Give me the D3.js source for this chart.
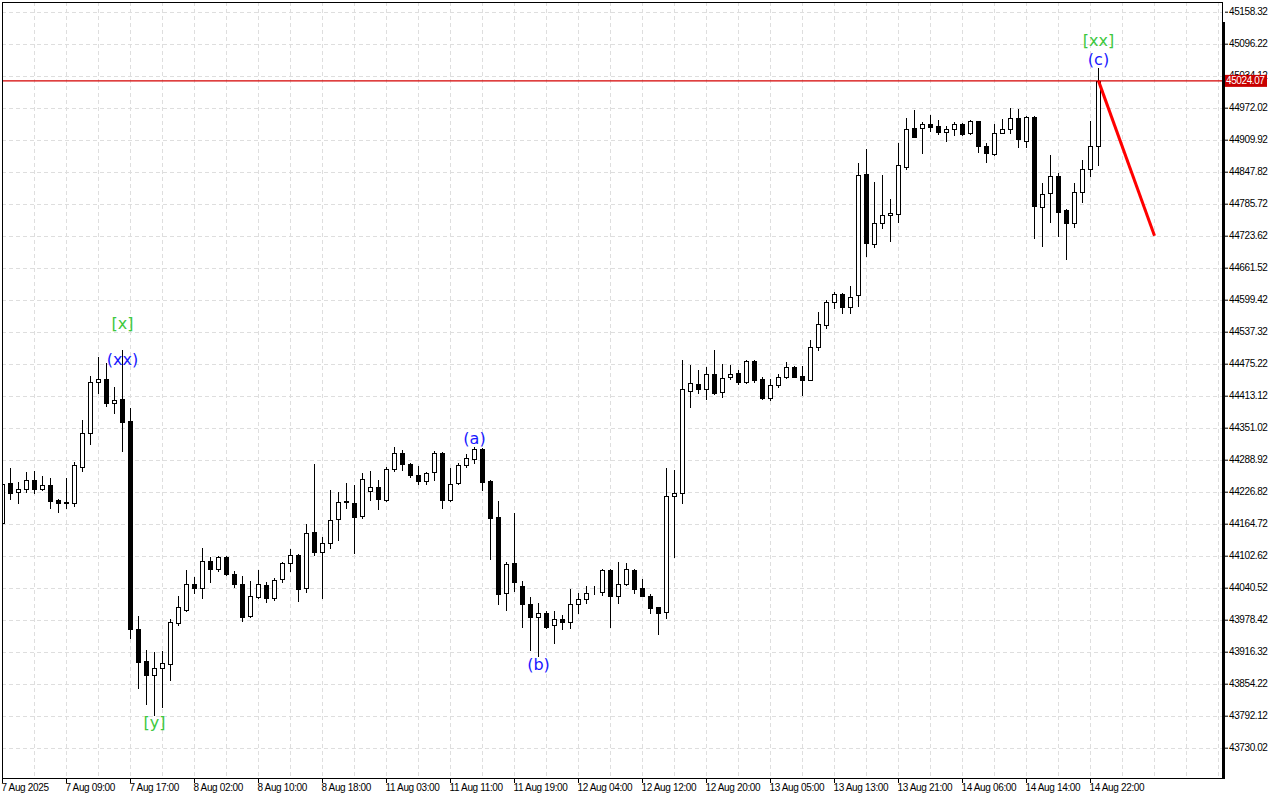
<!DOCTYPE html>
<html><head><meta charset="utf-8">
<script src="https://cdn.jsdelivr.net/npm/d3@7"></script>
<style>body{margin:0;background:#fff}svg{display:block}</style>
</head><body><svg id="c" width="1280" height="800"></svg>
<script>
// ---- data (hourly candles, bar index 0..137) ----
const opens = [44166,44244,44226,44232,44250,44232,44240,44211,44205,44205,44275,44341,44440,44446,44399,44407,44364,43960,43898,43871,
43885,43892,43972,43997,44048,44040,44092,44077,44100,44067,44048,43986,44022,44046,44021,44057,44088,44104,44040,44149,
44110,44127,44174,44207,44205,44180,44228,44236,44211,44271,44302,44281,44259,44248,44265,44302,44211,44244,44279,44290,
44310,44248,44178,44030,44088,44044,44009,43984,43991,43968,43980,43974,44009,44019,44034,44032,44075,44024,44048,44075,
44040,44024,44003,43993,44219,44224,44422,44436,44426,44455,44420,44449,44457,44440,44480,44446,44409,44434,44449,44469,
44451,44444,44508,44550,44595,44611,44585,44609,44843,44708,44748,44764,44766,44857,44933,44933,44940,44936,44925,44931,
44940,44923,44946,44898,44882,44923,44931,44952,44907,44954,44779,44806,44840,44774,44748,44808,44853,44898];
const highs = [44246,44273,44246,44265,44267,44257,44253,44213,44253,44284,44366,44451,44488,44477,44430,44502,44389,43986,43920,43916,
43918,43980,44024,44075,44061,44118,44100,44102,44102,44073,44063,44054,44075,44052,44059,44090,44116,44105,44164,44281,
44139,44230,44226,44244,44240,44263,44267,44250,44275,44314,44308,44282,44277,44265,44306,44303,44273,44283,44300,44314,
44311,44249,44209,44090,44186,44054,44022,44011,43995,43995,43988,44038,44030,44044,44044,44076,44076,44090,44088,44076,
44057,44028,44004,44273,44269,44482,44473,44463,44469,44502,44475,44473,44463,44482,44482,44449,44446,44455,44479,44471,
44471,44521,44576,44599,44614,44612,44626,44865,44892,44828,44841,44795,44904,44952,44968,44944,44958,44948,44937,44944,
44942,44948,44947,44904,44940,44950,44971,44970,44955,44955,44826,44880,44845,44775,44826,44871,44946,45049];
const lows = [44164,44213,44205,44226,44224,44230,44195,44187,44195,44199,44267,44319,44418,44393,44380,44306,43943,43846,43815,43794,
43809,43861,43968,43995,44030,44021,44052,44073,44065,44042,43976,43984,44021,44013,44017,44052,44073,44015,44032,44104,
44021,44118,44133,44195,44108,44176,44211,44193,44209,44267,44269,44255,44242,44242,44250,44195,44209,44242,44275,44283,
44230,44096,44009,43997,44034,43964,43920,43908,43962,43933,43960,43962,43991,44011,44028,44026,43964,44011,44046,44030,
44024,43991,43951,43982,44100,44205,44391,44418,44407,44417,44411,44446,44436,44438,44440,44407,44405,44430,44447,44449,
44415,44443,44502,44545,44583,44574,44574,44587,44684,44702,44739,44713,44750,44853,44915,44884,44927,44921,44907,44919,
44919,44921,44886,44867,44881,44922,44922,44896,44896,44719,44704,44750,44723,44678,44740,44789,44839,44861];
const closes = [44242,44224,44232,44250,44232,44240,44209,44205,44206,44279,44341,44440,44446,44399,44405,44362,43960,43896,43871,43885,
43894,43974,44003,44048,44040,44092,44077,44100,44067,44048,43984,44024,44048,44021,44055,44088,44104,44038,44147,44110,
44127,44172,44207,44209,44178,44251,44236,44213,44271,44302,44281,44259,44248,44263,44302,44211,44242,44279,44292,44310,
44246,44176,44028,44087,44052,44009,43984,43991,43964,43980,43974,44009,44019,44030,44035,44075,44024,44048,44077,44038,
44024,44001,43991,44219,44224,44426,44438,44426,44455,44418,44447,44455,44440,44480,44444,44409,44434,44449,44469,44449,
44444,44508,44552,44595,44611,44585,44605,44841,44709,44748,44764,44768,44861,44931,44915,44940,44935,44925,44931,44940,
44921,44946,44898,44884,44923,44931,44952,44911,44954,44781,44805,44840,44770,44748,44808,44853,44898,45024.07];

const xLabels = ["7 Aug 2025","7 Aug 09:00","7 Aug 17:00","8 Aug 02:00","8 Aug 10:00","8 Aug 18:00","11 Aug 03:00","11 Aug 11:00","11 Aug 19:00",
"12 Aug 04:00","12 Aug 12:00","12 Aug 20:00","13 Aug 05:00","13 Aug 13:00","13 Aug 21:00","14 Aug 06:00","14 Aug 14:00","14 Aug 22:00"];
const xLabelBars = [0,8,16,24,32,40,48,56,64,72,80,88,96,104,112,120,128,136];
const yTicks = [45158.32,45096.22,45034.12,44972.02,44909.92,44847.82,44785.72,44723.62,44661.52,44599.42,44537.32,44475.22,
44413.12,44351.02,44288.92,44226.82,44164.72,44102.62,44040.52,43978.42,43916.32,43854.22,43792.12,43730.02];
const currentPrice = 45024.07;

const waveTexts  = ["[x]","(xx)","[y]","(a)","(b)","[xx]","(c)"];
const waveBars   = [15,15,19,59,67,137,137];
const wavePrices = [44554,44484,43778,44331,43892,45103,45066];
const waveDegree = ["major","minor","major","minor","minor","major","minor"];

const projBars = [137,144];
const projPrices = [45024.07,44723.62];

// ---- drawing ----
const L=2, R=1222, T=2, B=778;
const svg = d3.select("#c");
svg.append("rect").attr("width",1280).attr("height",800).attr("fill","#fff");
const x = d3.scaleLinear().domain([0,152]).range([2,1218]);
const y = d3.scaleLinear().domain([43671.2,45177.15]).range([B,T]);
const FONT = "'Liberation Sans', Arial, sans-serif";

// grid
const grid = svg.append("g").attr("stroke","#dedede").attr("stroke-dasharray","4,3").attr("shape-rendering","crispEdges");
grid.selectAll("line.h").data(yTicks).join("line").attr("class","h")
  .attr("x1",L).attr("x2",R).attr("y1",d=>Math.round(y(d))+0.5).attr("y2",d=>Math.round(y(d))+0.5);
grid.selectAll("line.v").data(d3.range(4,153,4)).join("line").attr("class","v")
  .attr("x1",d=>x(d)+0.5).attr("x2",d=>x(d)+0.5).attr("y1",T).attr("y2",B);

// candles
svg.append("clipPath").attr("id","pc").append("rect").attr("x",L+0.5).attr("y",T).attr("width",R-L).attr("height",B-T);
const cg = svg.append("g").attr("clip-path","url(#pc)").attr("shape-rendering","crispEdges");
const idx = d3.range(opens.length);
cg.selectAll("line.w").data(idx).join("line").attr("class","w")
  .attr("x1",i=>x(i)+0.5).attr("x2",i=>x(i)+0.5)
  .attr("y1",i=>Math.round(y(highs[i]))).attr("y2",i=>Math.round(y(lows[i]))+1)
  .attr("stroke","#000").attr("stroke-width",1);
idx.forEach(i=>{
  const yo=Math.round(y(opens[i])), yc=Math.round(y(closes[i]));
  const cx=x(i);
  if (closes[i] >= opens[i]) {
    cg.append("rect").attr("x",cx-1.5).attr("y",yc+0.5).attr("width",4).attr("height",Math.max(0,yo-yc))
      .attr("fill","#fff").attr("stroke","#000").attr("stroke-width",1);
  } else {
    cg.append("rect").attr("x",cx-2).attr("y",yo).attr("width",5).attr("height",Math.max(1,yc-yo+1)).attr("fill","#000");
  }
});

// current price line
svg.append("line").attr("x1",L).attr("x2",R).attr("y1",y(currentPrice)).attr("y2",y(currentPrice))
  .attr("stroke","#d40000").attr("stroke-width",1.2);

// projection line
svg.append("path").datum(projBars.map((b,k)=>[b,projPrices[k]]))
  .attr("d",d3.line().x(d=>x(d[0])+0.5).y(d=>y(d[1])))
  .attr("stroke","#ff0000").attr("stroke-width",3).attr("fill","none");

// wave labels
svg.append("g").selectAll("text").data(d3.range(waveTexts.length)).join("text")
  .attr("x",k=>x(waveBars[k])+0.5).attr("y",k=>y(wavePrices[k]))
  .attr("text-anchor","middle").attr("dominant-baseline","central")
  .attr("font-family","'DejaVu Sans', sans-serif").attr("font-size",16)
  .attr("fill",k=>waveDegree[k]==="major"?"#3ec83e":"#1818ff")
  .text(k=>waveTexts[k]);

// frame
const fr = svg.append("g").attr("stroke","#000").attr("shape-rendering","crispEdges");
fr.append("line").attr("x1",L+0.5).attr("x2",L+0.5).attr("y1",T).attr("y2",B+1);
fr.append("line").attr("x1",L).attr("x2",R+1).attr("y1",T+0.5).attr("y2",T+0.5);
fr.append("line").attr("x1",R+0.5).attr("x2",R+0.5).attr("y1",T).attr("y2",22);
svg.append("rect").attr("x",R).attr("y",22).attr("width",3).attr("height",B-22+1).attr("fill","#000");

// y axis
const ya = svg.append("g").attr("transform",`translate(${R+3},0)`)
  .call(d3.axisRight(y).tickValues(yTicks).tickSize(3).tickPadding(1).tickFormat(d=>d.toFixed(2)));
ya.select(".domain").remove();
ya.selectAll("text").attr("font-family",FONT).attr("font-size",10).attr("letter-spacing","-0.4px").attr("fill","#000");
ya.selectAll("line").attr("stroke","#000");

// x axis
const xa = svg.append("g").attr("transform",`translate(0,${B})`)
  .call(d3.axisBottom(x).tickValues(xLabelBars).tickSize(5).tickPadding(1).tickFormat((d,k)=>xLabels[k]));
xa.select(".domain").attr("d",`M${L},0.5H${R+3}`).attr("stroke","#000");
xa.selectAll("line").attr("stroke","#000");
xa.selectAll("text").attr("text-anchor","start").attr("dx",-1).attr("font-family",FONT).attr("font-size",10).attr("letter-spacing","-0.35px").attr("fill","#000");

// current price tag
const yp = y(currentPrice);
svg.append("rect").attr("x",R+3).attr("y",yp-6).attr("width",42).attr("height",12).attr("fill","#c80000");
svg.append("text").attr("x",R+4).attr("y",yp).attr("dominant-baseline","central")
  .attr("font-family",FONT).attr("font-size",10).attr("letter-spacing","-0.4px").attr("fill","#fff").text(currentPrice.toFixed(2));
</script></body></html>
